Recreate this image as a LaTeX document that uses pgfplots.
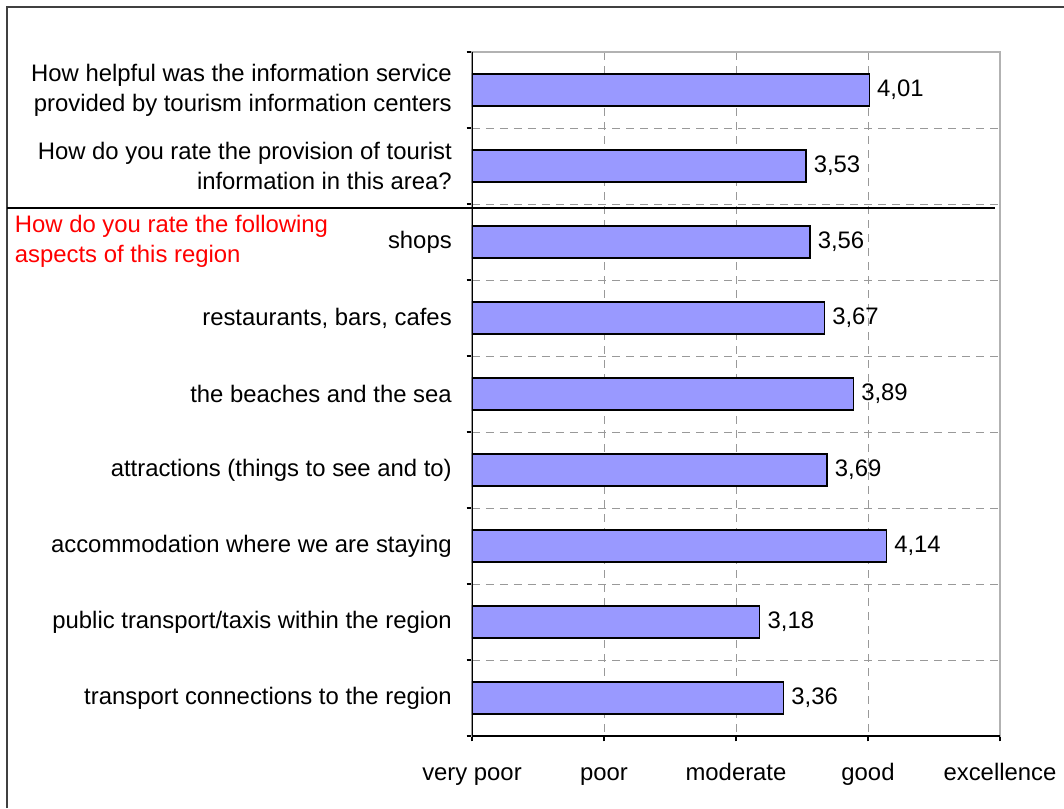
\documentclass[border=0pt]{standalone}
\usepackage{fontspec}
\setmainfont{Liberation Sans}
\usepackage{pgfplots}
\pgfplotsset{compat=1.18}
\definecolor{barblue}{HTML}{9999FF}
\definecolor{framegray}{HTML}{404040}
\newcommand\lab{\fontsize{17.9}{22.5}\selectfont}
\begin{document}
\begin{tikzpicture}
\useasboundingbox (0,0) rectangle (798pt,-606pt);
\draw[framegray, line width=1.1pt] (5.25pt,-606pt) -- (5.25pt,-5.25pt) -- (798pt,-5.25pt);
\begin{axis}[
    at={(354pt,-552pt)}, anchor=south west,
    scale only axis, width=396pt, height=513pt,
    xbar, bar width=24pt,
    xmin=1, xmax=5,
    ymin=-0.5, ymax=8.5, y dir=reverse,
    xtick={1,2,3,4,5},
    xticklabels={very poor, poor, moderate, good, excellence},
    ytick={0,1,2,3,4,5,6,7,8},
    yticklabels={
        {How helpful was the information service\\provided by tourism information centers},
        {How do you rate the provision of tourist\\information in this area?},
        shops,
        {restaurants, bars, cafes},
        the beaches and the sea,
        attractions (things to see and to),
        accommodation where we are staying,
        public transport/taxis within the region,
        transport connections to the region},
    minor ytick={-0.5,0.5,...,8.5},
    xtick pos=bottom, ytick pos=left,
    tick align=outside,
    major tick length=4pt, minor tick length=4pt,
    major y tick style={draw=none},
    tick style={black, line width=0.8pt},
    xmajorgrids, yminorgrids,
    major grid style={dashed, dash pattern=on 6pt off 4.5pt, gray!80, line width=0.7pt},
    minor grid style={dashed, dash pattern=on 6pt off 4.5pt, gray!80, line width=0.7pt},
    axis line style={gray!60, line width=0.9pt},
    yticklabel style={font=\lab, align=right, inner sep=0pt, xshift=-11pt},
    xticklabel style={font=\lab, inner sep=0pt, anchor=base, yshift=-29pt},
    nodes near coords,
    nodes near coords align={horizontal},
    every node near coord/.append style={font=\lab, anchor=west, xshift=2pt, black},
    /pgf/number format/.cd, use comma, fixed, fixed zerofill, precision=2, assume math mode=true,
]
\addplot[fill=barblue, draw=black, line width=1.1pt] coordinates {
    (4.01,0) (3.53,1) (3.56,2) (3.67,3) (3.89,4)
    (3.69,5) (4.14,6) (3.18,7) (3.36,8)
};
\draw[black, line width=1pt] (rel axis cs:0,0) -- (rel axis cs:0,1);
\draw[black, line width=1pt] (rel axis cs:0,0) -- (rel axis cs:1,0);
\end{axis}
\draw[black, line width=1.1pt] (5.25pt,-156pt) -- (746pt,-156pt);
\node[anchor=north west, text=red, align=left, font=\lab, inner sep=0pt] at (11pt,-161pt)
    {How do you rate the following\\aspects of this region};
\end{tikzpicture}
\end{document}
